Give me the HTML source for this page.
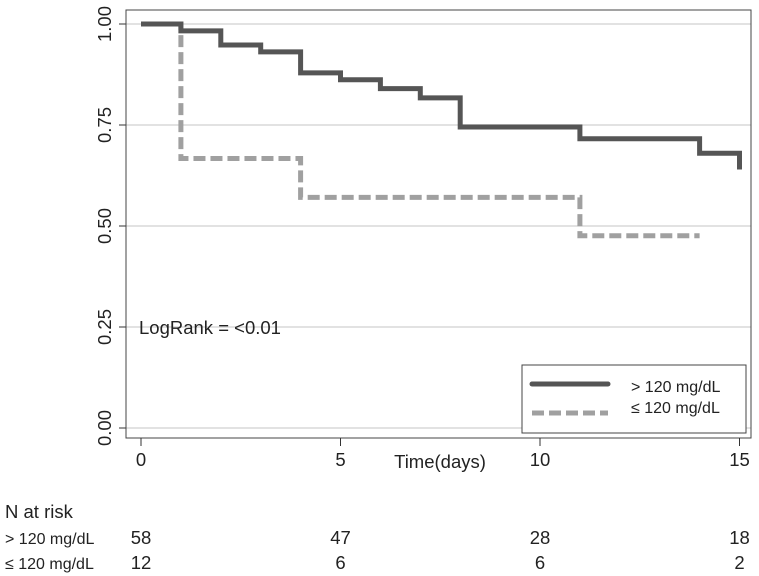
<!DOCTYPE html>
<html><head><meta charset="utf-8"><style>
body{margin:0;background:#fff;}
svg{display:block;font-family:"Liberation Sans",sans-serif;}
</style></head><body>
<svg id="c" width="759" height="576"></svg>
<script>
const tickX=[0,5,10,15];
const tickY=[0,0.25,0.5,0.75,1];
const tickYLabels=["0.00","0.25","0.50","0.75","1.00"];
const hiTimes=[0,1,2,3,4,5,6,7,8,11,14,15];
const hiSurv=[1,0.983,0.948,0.931,0.879,0.862,0.84,0.817,0.745,0.716,0.68,0.64];
const loTimes=[0,1,4,11,14];
const loSurv=[1,0.667,0.571,0.476,0.476];
const riskTimes=[0,5,10,15];
const riskHi=[58,47,28,18];
const riskLo=[12,6,6,2];
const NS='http://www.w3.org/2000/svg';
const svg=document.getElementById('c');
const X=t=>141+t*39.9;
const Y=v=>428-v*404;
function mk(tag,attrs,parent){const e=document.createElementNS(NS,tag);for(const k in attrs)e.setAttribute(k,attrs[k]);(parent||svg).appendChild(e);return e;}
tickY.forEach((v,i)=>{
 const g=mk('line',{x1:126,x2:751,y1:Y(v),y2:Y(v),stroke:'#d8d8d8','stroke-width':1.5});
 
 
 const t=mk('line',{x1:119,x2:126,y1:Y(v),y2:Y(v),stroke:'#333'});
 
 
 const l=mk('text',{x:0,y:0,'font-size':18.5,'text-anchor':'middle',fill:'#222',transform:`translate(111,${Y(v)}) rotate(-90)`});
 l.textContent=tickYLabels[i];
 
 
});
const fr=mk('rect',{x:126,y:10,width:625,height:428,fill:'none',stroke:'#444','stroke-width':1});


tickX.forEach(t=>{
 const k=mk('line',{x1:X(t),x2:X(t),y1:438,y2:446,stroke:'#333'});
 
 
 const l=mk('text',{x:X(t),y:466,'font-size':18.5,'text-anchor':'middle',fill:'#222'});
 l.textContent=t;
 
 
});
const xt=mk('text',{x:440,y:468,'font-size':18.5,'text-anchor':'middle',fill:'#222'});
xt.textContent='Time(days)';


function stepPath(ts,ss){
 let d=`M${X(ts[0])},${Y(ss[0])}`;
 for(let i=1;i<ts.length;i++){d+=` H${X(ts[i])} V${Y(ss[i])}`;}
 return d;
}
const lo=mk('path',{d:stepPath(loTimes,loSurv),fill:'none',stroke:'#a0a0a0','stroke-width':5,'stroke-dasharray':'12,5'});


const hi=mk('path',{d:stepPath(hiTimes,hiSurv),fill:'none',stroke:'#555','stroke-width':5});


const lr=mk('text',{x:139,y:334,'font-size':18.5,fill:'#222'});
lr.textContent='LogRank = <0.01';


const lg=mk('g',{});


mk('rect',{x:522,y:365,width:224,height:68,fill:'#fff',stroke:'#444'},lg);
mk('line',{x1:532,x2:608,y1:384,y2:384,stroke:'#555','stroke-width':5,'stroke-linecap':'round'},lg);
mk('line',{x1:532,x2:608,y1:413,y2:413,stroke:'#a0a0a0','stroke-width':5,'stroke-dasharray':'12,5'},lg);
const t1=mk('text',{x:631,y:392,'font-size':16,fill:'#222'},lg);t1.textContent='> 120 mg/dL';


const t2=mk('text',{x:631,y:413,'font-size':16,fill:'#222'},lg);t2.textContent='≤ 120 mg/dL';


const nr=mk('text',{x:5,y:518,'font-size':18.5,fill:'#222'});nr.textContent='N at risk';


[['> 120 mg/dL',riskHi,544],['≤ 120 mg/dL',riskLo,569]].forEach(([lab,arr,y])=>{
 const l=mk('text',{x:5,y:y,'font-size':16,fill:'#222'});l.textContent=lab;
 
 
 arr.forEach((n,i)=>{
  const c=mk('text',{x:X(riskTimes[i]),y:y,'font-size':18.5,'text-anchor':'middle',fill:'#222'});c.textContent=n;
  
  
 });
});
</script>
</body></html>
